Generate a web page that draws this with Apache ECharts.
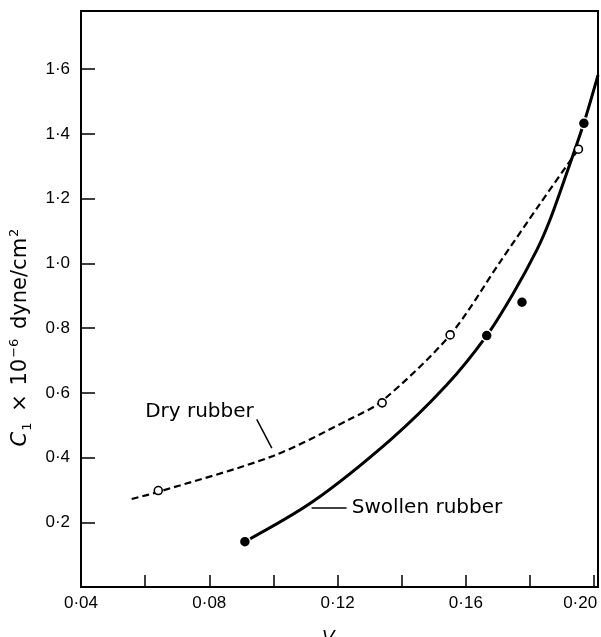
<!DOCTYPE html>
<html>
<head>
<meta charset="utf-8">
<script src="https://cdn.jsdelivr.net/npm/echarts@6/dist/echarts.min.js"></script>
<style>
html,body{margin:0;padding:0;background:#fff;}
#c{width:601px;height:637px;}
</style>
</head>
<body>
<div id="c"></div>
<script>
// ---- data ----
// measured points
var swollenX = [0.0911, 0.1665, 0.1775, 0.1968];
var swollenY = [0.140, 0.777, 0.880, 1.433];
var dryX = [0.0641, 0.1339, 0.1551, 0.1951];
var dryY = [0.298, 0.569, 0.779, 1.353];
// drawn curves
var swollenCurveX = [0.0911, 0.1123, 0.1364, 0.1540, 0.1665, 0.1748, 0.1821, 0.1862, 0.1914, 0.1968, 0.2012];
var swollenCurveY = [0.140, 0.264, 0.454, 0.624, 0.777, 0.908, 1.041, 1.134, 1.278, 1.434, 1.582];
var dryCurveX = [0.0558, 0.0641, 0.0999, 0.1239, 0.1339, 0.1551, 0.1707, 0.1831, 0.1951];
var dryCurveY = [0.272, 0.294, 0.405, 0.519, 0.575, 0.779, 1.005, 1.184, 1.353];
// axes
var xMin = 0.04, xMax = 0.2012, xStep = 0.02;
var yMin = 0, yMax = 1.78, yStep = 0.2;
var xLabelValues = [0.04, 0.08, 0.12, 0.16, 0.20];
var yLabelValues = [0.2, 0.4, 0.6, 0.8, 1.0, 1.2, 1.4, 1.6];
// annotations (data coordinates)
var dryLabel = {text: 'Dry rubber', x: 0.0600, y: 0.541, lx1: 0.0948, ly1: 0.518, lx2: 0.0995, ly2: 0.429};
var swollenLabel = {text: 'Swollen rubber', x: 0.1244, y: 0.244, lx1: 0.1119, ly1: 0.244, lx2: 0.1228, ly2: 0.244};

function zip(a, b) { return a.map(function (v, i) { return [v, b[i]]; }); }
function near(v, list) { for (var i = 0; i < list.length; i++) if (Math.abs(v - list[i]) < 1e-6) return list[i]; return null; }

var tickFont = 'Liberation Sans';
var chart = echarts.init(document.getElementById('c'), null, {renderer: 'canvas'});
chart.setOption({
  animation: false,
  backgroundColor: '#fff',
  grid: {left: 81, top: 11, right: 3, bottom: 50, show: true, borderColor: '#000', borderWidth: 2, containLabel: false},
  xAxis: {
    type: 'value', min: xMin, max: xMax, interval: xStep,
    axisLine: {show: true, lineStyle: {color: '#000', width: 2}},
    axisTick: {show: true, inside: true, length: 12, lineStyle: {color: '#000', width: 1.5}},
    splitLine: {show: false},
    axisLabel: {
      margin: 8, color: '#000', fontFamily: tickFont, fontSize: 17, showMaxLabel: true,
      formatter: function (v) {
        var m = near(v, xLabelValues);
        if (m === null) return '';
        var s = m.toFixed(2).replace('.', '\u00B7');
        if (m === 0.20) return '{e|' + s + '}';
        return s;
      },
      rich: {e: {fontFamily: tickFont, fontSize: 17, color: '#000', padding: [0, 28, 0, 0]}}
    }
  },
  yAxis: {
    type: 'value', min: yMin, max: yMax, interval: yStep,
    axisLine: {show: true, lineStyle: {color: '#000', width: 2}},
    axisTick: {show: true, inside: true, length: 14, lineStyle: {color: '#000', width: 1.5}},
    splitLine: {show: false},
    axisLabel: {
      margin: 11, color: '#000', fontFamily: tickFont, fontSize: 17,
      formatter: function (v) {
        var m = near(v, yLabelValues);
        if (m === null) return '';
        return m.toFixed(1).replace('.', '\u00B7');
      }
    }
  },
  series: [
    {type: 'line', data: zip(dryCurveX, dryCurveY), smooth: 0.3, showSymbol: false, symbol: 'none',
     lineStyle: {color: '#000', width: 2.2, type: [7, 4]}, z: 2},
    {type: 'line', data: zip(swollenCurveX, swollenCurveY), smooth: 0.3, showSymbol: false, symbol: 'none',
     lineStyle: {color: '#000', width: 3}, z: 2},
    {type: 'scatter', data: zip(dryX, dryY), symbol: 'circle', symbolSize: 8,
     itemStyle: {color: '#fff', borderColor: '#000', borderWidth: 1.6, opacity: 1}, z: 4},
    {type: 'scatter', data: zip(swollenX, swollenY), symbol: 'circle', symbolSize: 11,
     itemStyle: {color: '#000', borderColor: '#fff', borderWidth: 1.5, opacity: 1}, z: 4}
  ]
});

function px(x, y) { return chart.convertToPixel({gridIndex: 0}, [x, y]); }
var annFont = 'DejaVu Sans';
var d0 = px(dryLabel.x, dryLabel.y), d1 = px(dryLabel.lx1, dryLabel.ly1), d2 = px(dryLabel.lx2, dryLabel.ly2);
var s0 = px(swollenLabel.x, swollenLabel.y), s1 = px(swollenLabel.lx1, swollenLabel.ly1), s2 = px(swollenLabel.lx2, swollenLabel.ly2);
chart.setOption({
  graphic: [
    {type: 'text', x: d0[0], y: d0[1], style: {text: dryLabel.text, fill: '#000', font: '20px "' + annFont + '"', textAlign: 'left', textVerticalAlign: 'middle'}},
    {type: 'line', shape: {x1: d1[0], y1: d1[1], x2: d2[0], y2: d2[1]}, style: {stroke: '#000', lineWidth: 1.5}},
    {type: 'text', x: s0[0], y: s0[1], style: {text: swollenLabel.text, fill: '#000', font: '20px "' + annFont + '"', textAlign: 'left', textVerticalAlign: 'middle'}},
    {type: 'line', shape: {x1: s1[0], y1: s1[1], x2: s2[0], y2: s2[1]}, style: {stroke: '#000', lineWidth: 1.5}},
    {type: 'text', x: 21, y: 337, rotation: Math.PI / 2,
     style: {
       text: '{i|C}{s|1}{g| }{n|\u00D7}{g| }{n|10}{p|\u22126}{g| }{n|dyne/cm}{p|2}',
       textAlign: 'center', textVerticalAlign: 'middle', fill: '#000',
       font: '20px "DejaVu Sans"',
       rich: {
         i: {fontFamily: 'DejaVu Sans', fontSize: 21, fontStyle: 'italic', lineHeight: 26, fill: '#000'},
         n: {fontFamily: 'DejaVu Sans', fontSize: 21, lineHeight: 26, fill: '#000'},
         g: {fontFamily: 'DejaVu Sans', fontSize: 21, lineHeight: 26, fill: '#000', padding: [0, 1, 0, 1]},
         s: {fontFamily: 'DejaVu Sans', fontSize: 13, lineHeight: 13, verticalAlign: 'bottom', fill: '#000', padding: [0, 2, 0, 1]},
         p: {fontFamily: 'DejaVu Sans', fontSize: 13, lineHeight: 13, verticalAlign: 'top', fill: '#000', padding: [0, 1, 0, 1]}
       }
     }},
    {type: 'text', x: 330, y: 626,
     style: {
       text: '{i|V}{s|r}', textAlign: 'center', textVerticalAlign: 'top', fill: '#000',
       rich: {
         i: {fontFamily: 'Liberation Sans', fontSize: 19, fontStyle: 'italic', lineHeight: 24, fill: '#000'},
         s: {fontFamily: 'Liberation Sans', fontSize: 12, fontStyle: 'italic', lineHeight: 12, verticalAlign: 'bottom', fill: '#000'}
       }
     }}
  ]
});
</script>
</body>
</html>
